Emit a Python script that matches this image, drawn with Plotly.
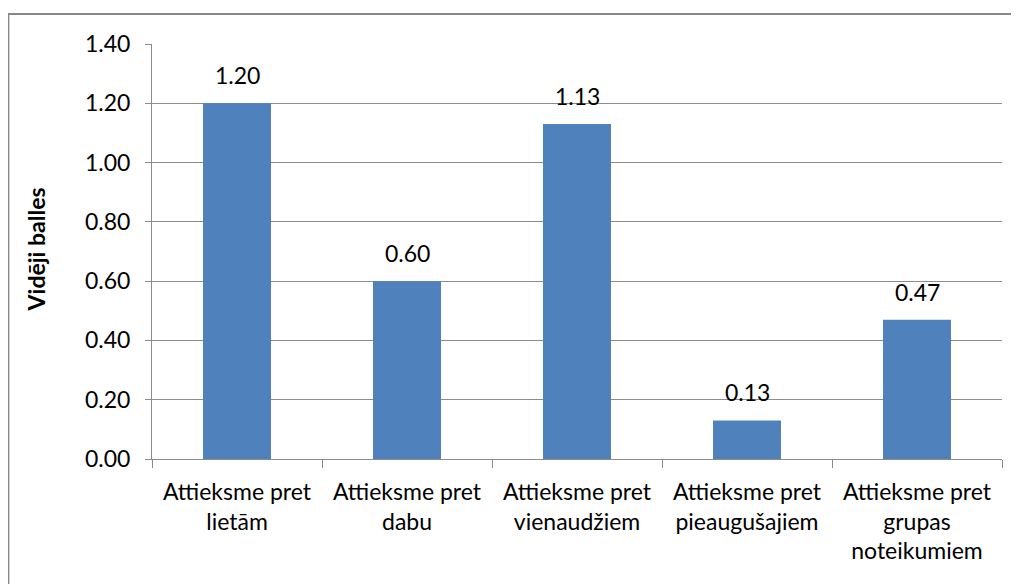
import plotly.graph_objects as go

categories = ["Attieksme pret<br>lietām", "Attieksme pret<br>dabu", "Attieksme pret<br>vienaudžiem",
              "Attieksme pret<br>pieaugušajiem", "Attieksme pret<br>grupas<br>noteikumiem"]
values = [1.20, 0.60, 1.13, 0.13, 0.47]
y_ticks = [0.0, 0.2, 0.4, 0.6, 0.8, 1.0, 1.2, 1.4]

font_family = "Lato, Open Sans, sans-serif"
grid_col = "#8c8c8c"

fig = go.Figure(go.Bar(x=categories, y=values, width=0.4,
                       marker=dict(color="#4f81bd", line=dict(width=0))))

for c, v in zip(categories, values):
    fig.add_annotation(x=c, y=v, text=f"{v:.2f}", showarrow=False,
                       yanchor="bottom", yshift=12,
                       font=dict(size=23, color="#000000", family=font_family))

# y axis title
fig.add_annotation(xref="paper", yref="paper", x=-0.136, y=0.506,
                   text="<b>Vidēji balles</b>", textangle=-90, showarrow=False,
                   xanchor="center", yanchor="middle",
                   font=dict(size=23, color="#000000", family=font_family))

# outer chart frame
fig.add_shape(type="rect", xref="paper", yref="paper",
              x0=-0.169, x1=1.2, y0=-0.6, y1=1.072,
              line=dict(color="#888888", width=2), layer="below")

fig.update_layout(
    width=1019, height=584,
    margin=dict(l=144, r=25, t=36, b=133),
    plot_bgcolor="white", paper_bgcolor="white",
    showlegend=False,
    font=dict(family=font_family, size=23, color="#000000"),
    xaxis=dict(showline=True, linecolor=grid_col, linewidth=1,
               ticks="outside", tickson="boundaries", ticklen=8, tickcolor=grid_col,
               ticklabelstandoff=12,
               showgrid=False, tickfont=dict(size=23)),
    yaxis=dict(range=[0, 1.4], tickvals=y_ticks, tickformat=".2f",
               showline=True, linecolor=grid_col, linewidth=1,
               ticks="outside", ticklen=6, tickcolor=grid_col,
               ticklabelstandoff=10,
               showgrid=True, gridcolor=grid_col, gridwidth=1,
               zeroline=False, tickfont=dict(size=23)),
)

fig.write_html("out.html")
